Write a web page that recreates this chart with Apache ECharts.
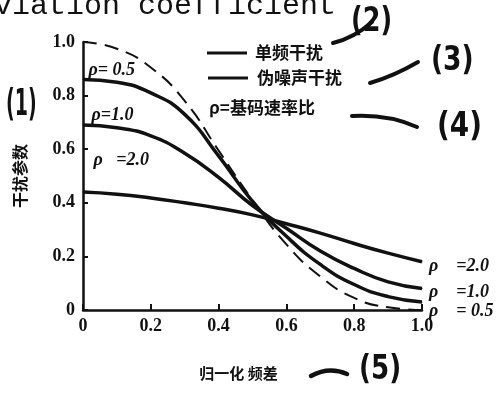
<!DOCTYPE html>
<html><head><meta charset="utf-8">
<script src="https://cdn.jsdelivr.net/npm/echarts@6/dist/echarts.min.js"></script>
<style>html,body{margin:0;padding:0;background:#fff}#c{width:501px;height:393px}</style>
</head><body><div id="c"></div>
<script>
// ---- data ----
const xValues      = [0, 0.1, 0.2, 0.3, 0.4, 0.5, 0.6, 0.7, 0.8, 0.9, 1.0];
const rho05Values  = [0.86, 0.85, 0.81, 0.73, 0.575, 0.405, 0.275, 0.17, 0.095, 0.05, 0.03];
const rho10Values  = [0.69, 0.68, 0.65, 0.585, 0.495, 0.39, 0.305, 0.22, 0.155, 0.105, 0.08];
const rho20Values  = [0.44, 0.432, 0.418, 0.40, 0.38, 0.355, 0.322, 0.287, 0.248, 0.212, 0.18];
const dashedValues = [1.0, 0.975, 0.905, 0.78, 0.595, 0.41, 0.245, 0.125, 0.045, 0.01, 0.0];
const xTickLabels  = ['0', '0.2', '0.4', '0.6', '0.8', '1.0'];
const yTickLabels  = ['0', '0.2', '0.4', '0.6', '0.8', '1.0'];
const startLabels  = ['ρ= 0.5', 'ρ=1.0', 'ρ   =2.0'];
const endLabels    = ['ρ    = 0.5', 'ρ    =1.0', 'ρ    =2.0'];
const legendTexts  = ['单频干扰', '伪噪声干扰', 'ρ=基码速率比'];
const yAxisTitle   = '干扰参数';
const xAxisTitle   = '归一化 频差';
const titleText    = 'viation coefficient';

const INK = '#111';
const serif = '"Liberation Serif", "DejaVu Serif", serif';
const cjk = '"Noto Sans CJK SC", sans-serif';

function pairs(vals) { return xValues.map((x, i) => [x, vals[i]]); }
function withStartLabel(vals, text, pos) {
  const d = pairs(vals);
  d[0] = { value: d[0], label: { show: true, position: pos, align: 'left', verticalAlign: 'top',
    formatter: text, color: INK, fontFamily: serif, fontStyle: 'italic', fontWeight: 'bold', fontSize: 18 } };
  return d;
}
function solid(name, data, endText, endOff) {
  return {
    type: 'line', name, data, smooth: true,
    symbol: 'circle', symbolSize: 1, showSymbol: true, showAllSymbol: true,
    itemStyle: { color: INK },
    lineStyle: { color: INK, width: 3.5 },
    label: { show: false },
    endLabel: { show: true, formatter: endText, distance: 7, offset: endOff, color: INK,
      fontFamily: serif, fontStyle: 'italic', fontWeight: 'bold', fontSize: 18 },
    z: 3
  };
}

const chart = echarts.init(document.getElementById('c'), null, { renderer: 'canvas' });
chart.setOption({
  animation: false,
  backgroundColor: '#fff',
  grid: { left: 83, right: 79, top: 42, bottom: 83, containLabel: false },
  xAxis: {
    type: 'value', min: 0, max: 1, interval: 0.2,
    axisLine: { show: true, lineStyle: { color: INK, width: 2.5 } },
    axisTick: { show: true, inside: true, length: 6, lineStyle: { color: INK, width: 2 } },
    splitLine: { show: false },
    axisLabel: { margin: 7, color: INK, fontFamily: serif, fontWeight: 'bold', fontSize: 18,
      formatter: (v) => xTickLabels[Math.round(v / 0.2)] },
    name: xAxisTitle, nameLocation: 'middle', nameGap: 56,
    nameTextStyle: { color: INK, fontFamily: cjk, fontWeight: 'bold', fontSize: 15, padding: [0, 28, 0, 0] }
  },
  yAxis: {
    type: 'value', min: 0, max: 1, interval: 0.2,
    axisLine: { show: true, lineStyle: { color: INK, width: 2.5 } },
    axisTick: { show: true, inside: true, length: 5, lineStyle: { color: INK, width: 2 } },
    splitLine: { show: false },
    axisLabel: { margin: 8, color: INK, fontFamily: serif, fontWeight: 'bold', fontSize: 18,
      formatter: (v) => yTickLabels[Math.round(v / 0.2)] },
    name: yAxisTitle, nameLocation: 'middle', nameGap: 55, nameRotate: 90,
    nameTextStyle: { color: INK, fontFamily: cjk, fontWeight: 'bold', fontSize: 16 }
  },
  series: [
    { type: 'line', name: 'dashed', data: pairs(dashedValues), smooth: true, symbol: 'none',
      lineStyle: { color: INK, width: 2, type: [14, 8] }, z: 2 },
    solid('ρ=0.5', withStartLabel(rho05Values, startLabels[0], [6, -18]), endLabels[0], [0, 9]),
    solid('ρ=1.0', withStartLabel(rho10Values, startLabels[1], [9, -18]), endLabels[1], [0, 4]),
    solid('ρ=2.0', withStartLabel(rho20Values, startLabels[2], [11, -40]), endLabels[2], [0, 5])
  ],
  graphic: [
    // cropped title at the top
    { type: 'text', x: -6, y: 21, style: { text: titleText, fill: INK, font: '30px "Liberation Mono", monospace',
      textAlign: 'left', textVerticalAlign: 'bottom' } },
    // legend block
    { type: 'line', shape: { x1: 207, y1: 53, x2: 247, y2: 53 }, style: { stroke: INK, lineWidth: 3 } },
    { type: 'text', x: 255, y: 53, style: { text: legendTexts[0], fill: INK, font: 'bold 17px ' + cjk, textVerticalAlign: 'middle' } },
    { type: 'line', shape: { x1: 208, y1: 78, x2: 248, y2: 78 }, style: { stroke: INK, lineWidth: 3 } },
    { type: 'text', x: 257, y: 78, style: { text: legendTexts[1], fill: INK, font: 'bold 17px ' + cjk, textVerticalAlign: 'middle' } },
    { type: 'text', x: 209, y: 108, style: { text: legendTexts[2], fill: INK, font: 'bold 17px ' + cjk, textVerticalAlign: 'middle' } },
    // hand-written annotations
    { type: 'text', x: 6, y: 105, scaleX: 0.5, style: { text: '(1)', fill: INK, font: 'bold 38px "DejaVu Sans", sans-serif', textVerticalAlign: 'middle' } },
    { type: 'text', x: 351, y: 22, scaleX: 0.75, style: { text: '(2)', fill: INK, font: 'bold 34px "DejaVu Sans", sans-serif', textVerticalAlign: 'middle' } },
    { type: 'text', x: 431, y: 61, scaleX: 0.78, style: { text: '(3)', fill: INK, font: 'bold 34px "DejaVu Sans", sans-serif', textVerticalAlign: 'middle' } },
    { type: 'text', x: 437, y: 127, scaleX: 0.82, style: { text: '(4)', fill: INK, font: 'bold 34px "DejaVu Sans", sans-serif', textVerticalAlign: 'middle' } },
    { type: 'text', x: 359, y: 370, scaleX: 0.77, style: { text: '(5)', fill: INK, font: 'bold 34px "DejaVu Sans", sans-serif', textVerticalAlign: 'middle' } },
    { type: 'bezierCurve', shape: { x1: 333, y1: 43, x2: 372, y2: 22, cpx1: 354, cpy1: 38 }, style: { stroke: INK, lineWidth: 4, lineCap: 'round', fill: null } },
    { type: 'bezierCurve', shape: { x1: 370, y1: 83, x2: 418, y2: 62, cpx1: 394, cpy1: 76 }, style: { stroke: INK, lineWidth: 4, lineCap: 'round', fill: null } },
    { type: 'bezierCurve', shape: { x1: 352, y1: 116, x2: 417, y2: 127, cpx1: 388, cpy1: 114 }, style: { stroke: INK, lineWidth: 4, lineCap: 'round', fill: null } },
    { type: 'bezierCurve', shape: { x1: 311, y1: 376, x2: 347, y2: 374, cpx1: 329, cpy1: 366 }, style: { stroke: INK, lineWidth: 4.5, lineCap: 'round', fill: null } }
  ]
});
</script>
</body></html>
